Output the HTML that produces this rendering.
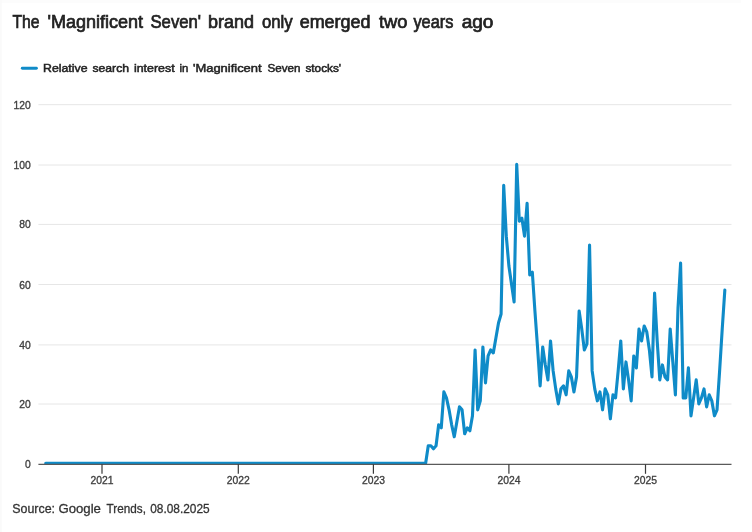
<!DOCTYPE html>
<html lang="en">
<head>
<meta charset="utf-8">
<title>The 'Magnificent Seven' brand only emerged two years ago</title>
<style>
html,body{margin:0;padding:0;background:#fff;}
body{width:752px;height:532px;overflow:hidden;font-family:"Liberation Sans",sans-serif;}
svg{display:block;}
text{font-family:"Liberation Sans",sans-serif;}
.title{font-size:17.8px;fill:#222222;stroke:#222222;stroke-width:0.7px;}
.legend{font-size:11.5px;fill:#222222;stroke:#222222;stroke-width:0.5px;}
.source{font-size:13px;fill:#333333;stroke:#333333;stroke-width:0.3px;}
.tick{font-size:11.5px;fill:#404040;stroke:#404040;stroke-width:0.35px;}
</style>
</head>
<body>
<svg width="752" height="532" viewBox="0 0 752 532">
<rect x="0" y="0" width="752" height="532" fill="#ffffff"/>
<rect x="0" y="0" width="741" height="2.8" fill="#fcfcfc"/>
<rect x="0" y="0" width="1.7" height="532" fill="#fafafa"/>
<text class="title" y="28.3"><tspan x="12.45" textLength="27.1" lengthAdjust="spacingAndGlyphs">The</tspan> <tspan x="47.45" textLength="95.7" lengthAdjust="spacingAndGlyphs">'Magnificent</tspan> <tspan x="150.45" textLength="50.59" lengthAdjust="spacingAndGlyphs">Seven'</tspan> <tspan x="208.05" textLength="46.02" lengthAdjust="spacingAndGlyphs">brand</tspan> <tspan x="261.93" textLength="30.72" lengthAdjust="spacingAndGlyphs">only</tspan> <tspan x="299.7" textLength="70.85" lengthAdjust="spacingAndGlyphs">emerged</tspan> <tspan x="379.0" textLength="28.5" lengthAdjust="spacingAndGlyphs">two</tspan> <tspan x="413.45" textLength="39.95" lengthAdjust="spacingAndGlyphs">years</tspan> <tspan x="461.65" textLength="31.76" lengthAdjust="spacingAndGlyphs">ago</tspan></text>
<line x1="22.3" x2="36.4" y1="68.3" y2="68.3" stroke="#0f8bc8" stroke-width="2.9" stroke-linecap="round"/>
<text class="legend" y="71.5"><tspan x="43.02" textLength="44.55" lengthAdjust="spacingAndGlyphs">Relative</tspan> <tspan x="92.4" textLength="36.65" lengthAdjust="spacingAndGlyphs">search</tspan> <tspan x="133.95" textLength="40.65" lengthAdjust="spacingAndGlyphs">interest</tspan> <tspan x="179.5" textLength="8.85" lengthAdjust="spacingAndGlyphs">in</tspan> <tspan x="192.95" textLength="68.7" lengthAdjust="spacingAndGlyphs">'Magnificent</tspan> <tspan x="267.45" textLength="33.04" lengthAdjust="spacingAndGlyphs">Seven</tspan> <tspan x="305.4" textLength="35.7" lengthAdjust="spacingAndGlyphs">stocks'</tspan></text>
<g shape-rendering="auto">
<text class="tick" transform="translate(30.8,468.3) scale(0.9,1)" text-anchor="end">0</text>
<line x1="38.4" x2="731.5" y1="404.0" y2="404.0" stroke="#e6e6e6" stroke-width="1"/>
<text class="tick" transform="translate(30.8,408.0) scale(0.9,1)" text-anchor="end">20</text>
<line x1="38.4" x2="731.5" y1="344.9" y2="344.9" stroke="#e6e6e6" stroke-width="1"/>
<text class="tick" transform="translate(30.8,348.9) scale(0.9,1)" text-anchor="end">40</text>
<line x1="38.4" x2="731.5" y1="284.5" y2="284.5" stroke="#e6e6e6" stroke-width="1"/>
<text class="tick" transform="translate(30.8,288.5) scale(0.9,1)" text-anchor="end">60</text>
<line x1="38.4" x2="731.5" y1="224.4" y2="224.4" stroke="#e6e6e6" stroke-width="1"/>
<text class="tick" transform="translate(30.8,228.4) scale(0.9,1)" text-anchor="end">80</text>
<line x1="38.4" x2="731.5" y1="165.0" y2="165.0" stroke="#e6e6e6" stroke-width="1"/>
<text class="tick" transform="translate(30.8,169.0) scale(0.9,1)" text-anchor="end">100</text>
<line x1="38.4" x2="731.5" y1="104.7" y2="104.7" stroke="#e6e6e6" stroke-width="1"/>
<text class="tick" transform="translate(30.8,108.7) scale(0.9,1)" text-anchor="end">120</text>
</g>
<path d="M45.70,463.30 L425.65,463.30 L428.26,445.78 L430.86,445.78 L433.46,448.77 L436.06,445.78 L438.66,424.81 L441.26,427.81 L443.87,391.87 L446.47,397.86 L449.07,409.84 L451.67,424.81 L454.27,436.80 L456.87,421.82 L459.47,406.85 L462.08,409.84 L464.68,433.80 L467.28,427.81 L469.88,430.81 L472.48,415.83 L475.08,349.94 L477.69,409.84 L480.29,400.86 L482.89,346.94 L485.49,382.88 L488.09,355.93 L490.69,349.94 L493.29,352.94 L495.90,337.96 L498.50,322.99 L501.10,314.00 L503.70,185.21 L506.30,236.13 L508.90,266.08 L511.50,284.05 L514.11,302.02 L516.71,164.25 L519.31,221.16 L521.91,218.16 L524.51,236.13 L527.11,203.19 L529.72,275.06 L532.32,272.07 L534.92,311.00 L537.52,346.94 L540.12,385.88 L542.72,346.94 L545.32,364.91 L547.93,379.89 L550.53,340.95 L553.13,370.90 L555.73,388.88 L558.33,403.85 L560.93,388.88 L563.53,385.88 L566.14,394.87 L568.74,370.90 L571.34,376.89 L573.94,391.87 L576.54,376.89 L579.14,311.00 L581.75,328.98 L584.35,349.94 L586.95,343.95 L589.55,245.11 L592.15,370.90 L594.75,388.88 L597.35,400.86 L599.96,391.87 L602.56,409.84 L605.16,388.88 L607.76,394.87 L610.36,418.82 L612.96,394.87 L615.56,397.86 L618.17,370.90 L620.77,340.95 L623.37,388.88 L625.97,361.92 L628.57,379.89 L631.17,400.86 L633.77,355.93 L636.38,367.91 L638.98,328.98 L641.58,340.95 L644.18,325.98 L646.78,331.97 L649.38,349.94 L651.99,376.89 L654.59,293.03 L657.19,340.95 L659.79,379.89 L662.39,364.91 L664.99,376.89 L667.59,379.89 L670.20,328.98 L672.80,361.92 L675.40,394.87 L678.00,308.01 L680.60,263.08 L683.20,397.86 L685.81,397.86 L688.41,367.91 L691.01,415.83 L693.61,397.86 L696.21,379.89 L698.81,403.85 L701.41,397.86 L704.02,388.88 L706.62,406.85 L709.22,394.87 L711.82,400.86 L714.42,415.83 L717.02,409.84 L719.62,370.90 L722.23,328.98 L724.83,290.04" fill="none" stroke="#0f8bc8" stroke-width="3.1" stroke-linejoin="round" stroke-linecap="round"/>
<line x1="38.4" x2="731.5" y1="464.3" y2="464.3" stroke="#5a5a5a" stroke-width="1.3"/>
<line x1="102.0" x2="102.0" y1="464.3" y2="473.8" stroke="#3a3a3a" stroke-width="1.2"/>
<text class="tick" transform="translate(102.0,484) scale(0.9,1)" text-anchor="middle">2021</text>
<line x1="238.3" x2="238.3" y1="464.3" y2="473.8" stroke="#3a3a3a" stroke-width="1.2"/>
<text class="tick" transform="translate(238.3,484) scale(0.9,1)" text-anchor="middle">2022</text>
<line x1="373.4" x2="373.4" y1="464.3" y2="473.8" stroke="#3a3a3a" stroke-width="1.2"/>
<text class="tick" transform="translate(373.4,484) scale(0.9,1)" text-anchor="middle">2023</text>
<line x1="508.9" x2="508.9" y1="464.3" y2="473.8" stroke="#3a3a3a" stroke-width="1.2"/>
<text class="tick" transform="translate(508.9,484) scale(0.9,1)" text-anchor="middle">2024</text>
<line x1="645.5" x2="645.5" y1="464.3" y2="473.8" stroke="#3a3a3a" stroke-width="1.2"/>
<text class="tick" transform="translate(645.5,484) scale(0.9,1)" text-anchor="middle">2025</text>

<text class="source" y="513.1"><tspan x="12.25" textLength="42.81" lengthAdjust="spacingAndGlyphs">Source:</tspan> <tspan x="58.45" textLength="42.51" lengthAdjust="spacingAndGlyphs">Google</tspan> <tspan x="106.6" textLength="39.3" lengthAdjust="spacingAndGlyphs">Trends,</tspan> <tspan x="150.2" textLength="59.51" lengthAdjust="spacingAndGlyphs">08.08.2025</tspan></text>
</svg>
</body>
</html>
